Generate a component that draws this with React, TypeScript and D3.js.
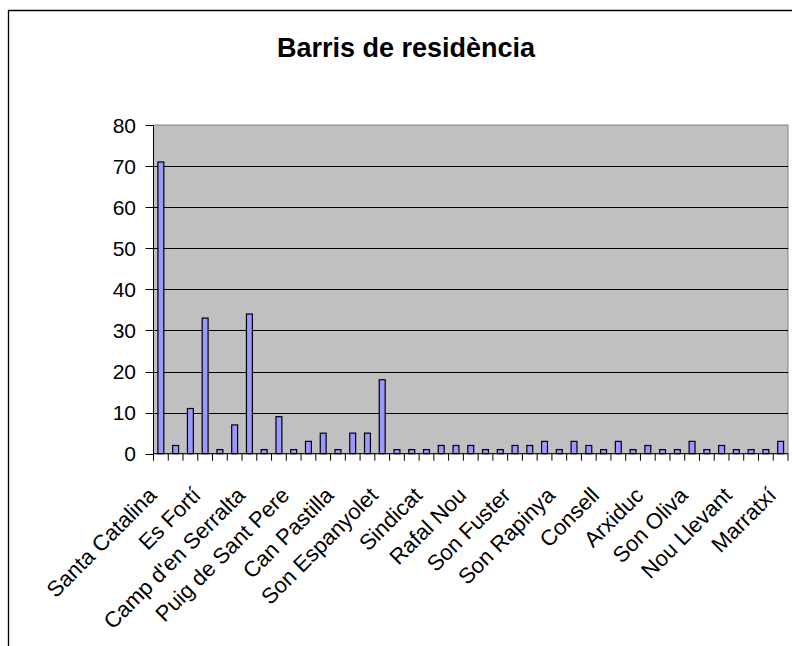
import React from "react";
import * as d3 from "d3";

// Nombre de persones per barri (43 categories, only every 3rd one is labelled)
const values = [
  71, 2, 11, 33, 1, 7, 34, 1, 9, 1, 3, 5, 1, 5, 5, 18, 1, 1, 1, 2, 2, 2, 1, 1,
  2, 2, 3, 1, 3, 2, 1, 3, 1, 2, 1, 1, 3, 1, 2, 1, 1, 1, 3,
];

const tickLabels = [
  "Santa Catalina",
  "Es Fortí",
  "Camp d'en Serralta",
  "Puig de Sant Pere",
  "Can Pastilla",
  "Son Espanyolet",
  "Sindicat",
  "Rafal Nou",
  "Son Fuster",
  "Son Rapinya",
  "Consell",
  "Arxiduc",
  "Son Oliva",
  "Nou Llevant",
  "Marratxí",
];
const labelEvery = 3;

const yTicks = [0, 10, 20, 30, 40, 50, 60, 70, 80];

const width = 792;
const height = 646;
const plot = { left: 153.5, right: 788, top: 125, bottom: 453.7 };
const font = "'Liberation Sans', Arial, sans-serif";

export default function App() {
  const x = d3
    .scaleBand<number>()
    .domain(values.map((_, i) => i))
    .range([plot.left, plot.right])
    .paddingInner(0.6)
    .paddingOuter(0.3);
  const y = d3.scaleLinear().domain([0, 80]).range([plot.bottom, plot.top]);
  const step = x.step();
  const bounds = d3.range(values.length + 1).map((k) => plot.left + k * step);

  return (
    <svg
      width={width}
      height={height}
      style={{ position: "absolute", left: 0, top: 0, background: "#fff" }}
      fontFamily={font}
    >
      {/* outer chart frame */}
      <path d={`M8.5,${height} V10.5 H${width}`} fill="none" stroke="#000" strokeWidth={1.3} />

      <text x={406} y={57} textAnchor="middle" fontSize={27} fontWeight="bold">
        Barris de residència
      </text>

      {/* plot area */}
      <rect
        x={plot.left}
        y={plot.top}
        width={plot.right - plot.left}
        height={plot.bottom - plot.top}
        fill="#c0c0c0"
        stroke="#808080"
        strokeWidth={1}
      />

      {yTicks.slice(1, -1).map((t) => (
        <line
          key={t}
          x1={plot.left}
          x2={plot.right}
          y1={Math.round(y(t)) + 0.5}
          y2={Math.round(y(t)) + 0.5}
          stroke="#000"
          strokeWidth={1}
        />
      ))}

      {values.map((v, i) => (
        <rect
          key={i}
          x={x(i)}
          y={y(v)}
          width={x.bandwidth()}
          height={y(0) - y(v)}
          fill="#9999ff"
          stroke="#000"
          strokeWidth={1.2}
        />
      ))}

      {/* y axis */}
      <line x1={plot.left} x2={plot.left} y1={plot.top} y2={plot.bottom} stroke="#000" />
      {yTicks.map((t) => (
        <g key={t}>
          <line
            x1={plot.left - 8}
            x2={plot.left}
            y1={Math.round(y(t)) + 0.5}
            y2={Math.round(y(t)) + 0.5}
            stroke="#000"
          />
          <text
            x={136}
            y={y(t)}
            textAnchor="end"
            dominantBaseline="central"
            fontSize={21}
          >
            {t}
          </text>
        </g>
      ))}

      {/* x axis */}
      <line x1={plot.left} x2={plot.right} y1={plot.bottom} y2={plot.bottom} stroke="#000" />
      {bounds.map((b, k) => (
        <line
          key={k}
          x1={b}
          x2={b}
          y1={plot.bottom}
          y2={plot.bottom + 7}
          stroke="#000"
        />
      ))}
      {tickLabels.map((name, j) => {
        const i = j * labelEvery;
        const cx = (x(i) ?? 0) + x.bandwidth() / 2 - 3;
        const cy = plot.bottom + 43;
        return (
          <text
            key={name}
            transform={`translate(${cx},${cy}) rotate(-45)`}
            textAnchor="end"
            fontSize={22}
          >
            {name}
          </text>
        );
      })}
    </svg>
  );
}
